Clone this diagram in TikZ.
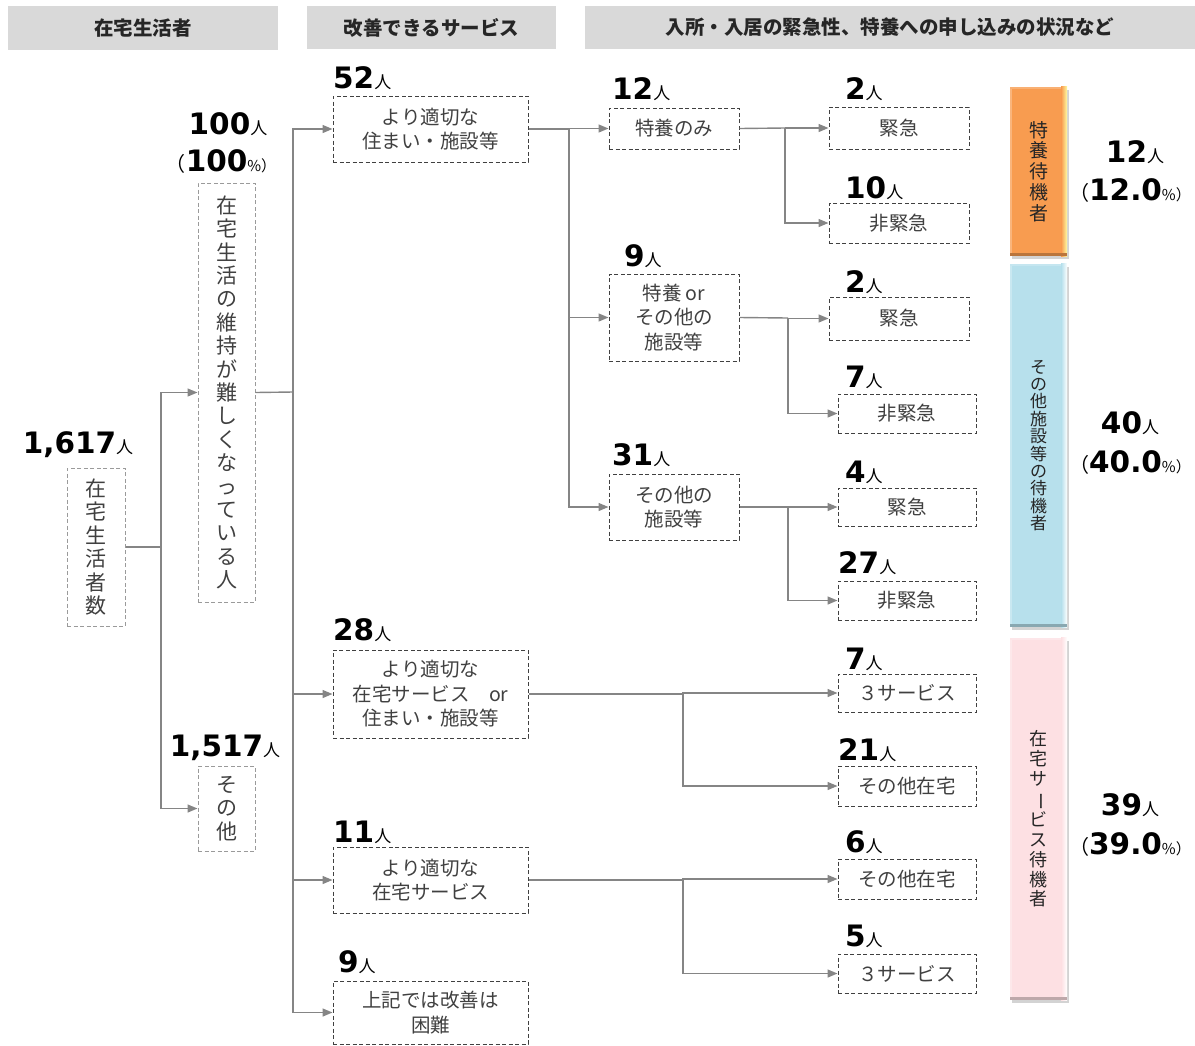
\documentclass[tikz,border=0pt]{standalone}
\usepackage{fontspec}
\setmainfont{Noto Sans CJK JP}
\newfontfamily\numf{DejaVu Sans}
\usetikzlibrary{arrows.meta,shadows}
\definecolor{hdrgray}{HTML}{D9D9D9}
\definecolor{txtgray}{HTML}{404040}
\definecolor{lngray}{HTML}{858585}
\definecolor{dashgray}{HTML}{9A9A9A}
\definecolor{orng}{HTML}{F89C50}
\definecolor{blu}{HTML}{B7E0EC}
\definecolor{pnk}{HTML}{FDE0E3}
\newcommand{\nm}[1]{{\numf\bfseries\fontsize{29.5}{30}\selectfont #1}{\fontsize{17}{17}\selectfont 人}}
\newcommand{\pc}[1]{{\fontsize{20}{20}\selectfont （}{\numf\bfseries\fontsize{29.5}{30}\selectfont #1}{\fontsize{15}{15}\selectfont \%）}}
\newcommand{\bx}[7][box]{\node[#1, minimum width={(#5-#3)*1pt}, minimum height={(#6-#4)*1pt}] (#2) at ({(#3+#5)/2},{(#4+#6)/2}) {#7};}
\newcommand{\vbar}{\rotatebox[origin=c]{-90}{ー}}
% bevel overlay on a bar node: #1 node name, #2 base colour, #3 highlight colour
\newcommand{\bevel}[3]{%
  \fill[#2!75!white] (#1.north west) rectangle ([xshift=2pt]#1.south west);
  \fill[#2!80!white] (#1.north west) rectangle ([yshift=-2pt]#1.north east);
  \shade[left color=#2, right color=#3] ([xshift=-6pt]#1.north east) rectangle (#1.south east);
  \fill[#2!75!black] ([yshift=3pt]#1.south west) rectangle (#1.south east);
}
\tikzset{
  hdr/.style={fill=hdrgray, inner sep=0pt, text=black!85, font=\bfseries\fontsize{19.5}{20}\selectfont},
  box/.style={draw=txtgray, dashed, dash pattern=on 4pt off 2.5pt, line width=1pt, inner sep=0pt, align=center, text=txtgray, font=\fontsize{19.5}{24.5}\selectfont},
  lbox/.style={draw=dashgray, dashed, dash pattern=on 4pt off 2.5pt, line width=1pt, inner sep=0pt, align=center, text=txtgray, font=\fontsize{21}{23.4}\selectfont},
  lab/.style={inner sep=0pt, text=black},
  conn/.style={draw=lngray, line width=1.4pt},
  arr/.style={conn, -{Triangle[length=10pt,width=8pt]}},
  bar/.style={draw=none, inner sep=0pt, align=center, text=black!85, drop shadow={opacity=0.35, shadow xshift=2pt, shadow yshift=-3pt}},
}
\begin{document}
\begin{tikzpicture}[x=1pt,y=-1pt]
\useasboundingbox (0,0) rectangle (1195,1045);
% headers
\bx[hdr]{h1}{8}{6}{278}{50}{在宅生活者}
\bx[hdr]{h2}{307}{6}{556}{49}{改善できるサービス}
\bx[hdr]{h3}{585}{6}{1195}{49}{入所・入居の緊急性、特養への申し込みの状況など}
% column 1
\bx[lbox]{root}{67}{468}{125}{626}{在\\宅\\生\\活\\者\\数}
\node[lab, anchor=base] (lroot) at (78,453) {\nm{1,617}};
\bx[lbox]{hard}{198}{183}{255}{602}{在\\宅\\生\\活\\の\\維\\持\\が\\難\\し\\く\\な\\っ\\て\\い\\る\\人}
\node[lab, anchor=base] (lhard) at (228,134) {\nm{100}};
\node[lab, anchor=base] (phard) at (221,171) {\pc{100}};
\bx[lbox]{oth}{198}{766}{255}{851}{そ\\の\\他}
\node[lab, anchor=base] (loth) at (225,756) {\nm{1,517}};
% column 2
\bx{b52}{333}{96}{528}{162}{より適切な\\住まい・施設等}
\node[lab, anchor=base west] (l52) at (333,88) {\nm{52}};
\bx{b28}{333}{650}{528}{738}{より適切な\\在宅サービス　or\\住まい・施設等}
\node[lab, anchor=base west] (l28) at (333,640) {\nm{28}};
\bx{b11}{333}{847}{528}{913}{より適切な\\在宅サービス}
\node[lab, anchor=base west] (l11) at (333,842) {\nm{11}};
\bx{b9}{333}{981}{528}{1044}{上記では改善は\\困難}
\node[lab, anchor=base west] (l9) at (338,972) {\nm{9}};
% column 3
\bx{c12}{609}{108}{739}{149}{特養のみ}
\node[lab, anchor=base west] (lc12) at (612,99) {\nm{12}};
\bx{c9}{609}{274}{739}{361}{特養 or\\その他の\\施設等}
\node[lab, anchor=base west] (lc9) at (624,266) {\nm{9}};
\bx{c31}{609}{474}{739}{540}{その他の\\施設等}
\node[lab, anchor=base west] (lc31) at (612,465) {\nm{31}};
% column 4
\bx{d1}{829}{107}{969}{149}{緊急}
\node[lab, anchor=base west] (ld1) at (845,99) {\nm{2}};
\bx{d2}{829}{203}{969}{243}{非緊急}
\node[lab, anchor=base west] (ld2) at (845,198) {\nm{10}};
\bx{d3}{829}{297}{969}{340}{緊急}
\node[lab, anchor=base west] (ld3) at (845,292) {\nm{2}};
\bx{d4}{838}{394}{976}{433}{非緊急}
\node[lab, anchor=base west] (ld4) at (845,387) {\nm{7}};
\bx{d5}{838}{488}{976}{526}{緊急}
\node[lab, anchor=base west] (ld5) at (845,482) {\nm{4}};
\bx{d6}{838}{581}{976}{620}{非緊急}
\node[lab, anchor=base west] (ld6) at (838,573) {\nm{27}};
\bx{e1}{838}{674}{976}{712}{３サービス}
\node[lab, anchor=base west] (le1) at (845,669) {\nm{7}};
\bx{e2}{838}{766}{976}{806}{その他在宅}
\node[lab, anchor=base west] (le2) at (838,760) {\nm{21}};
\bx{e3}{838}{859}{976}{899}{その他在宅}
\node[lab, anchor=base west] (le3) at (845,852) {\nm{6}};
\bx{e4}{838}{954}{976}{993}{３サービス}
\node[lab, anchor=base west] (le4) at (845,946) {\nm{5}};
% coloured bars
\bx[bar, fill=orng, font=\fontsize{19}{20.8}\selectfont]{o1}{1010}{87}{1067}{256}{特\\養\\待\\機\\者}
\bevel{o1}{orng}{yellow!35!white}
\bx[bar, fill=blu, font=\fontsize{17}{17.4}\selectfont]{o2}{1010}{264}{1067}{627}{そ\\の\\他\\施\\設\\等\\の\\待\\機\\者}
\bevel{o2}{blu}{white}
\bx[bar, fill=pnk, font=\fontsize{18}{19.9}\selectfont]{o3}{1010}{638}{1067}{1000}{在\\宅\\サ\\\vbar\\ビ\\ス\\待\\機\\者}
\bevel{o3}{pnk}{white}
\node[lab, anchor=base] (r1) at (1135,162) {\nm{12}};
\node[lab, anchor=base] (p1) at (1130,200) {\pc{12.0}};
\node[lab, anchor=base] (r2) at (1130,433) {\nm{40}};
\node[lab, anchor=base] (p2) at (1130,472) {\pc{40.0}};
\node[lab, anchor=base] (r3) at (1130,815) {\nm{39}};
\node[lab, anchor=base] (p3) at (1130,854) {\pc{39.0}};
% junctions
\coordinate (j0) at (161,547);
\coordinate (j1) at (293,392);
\coordinate (j2) at (569,129);
\coordinate (j3) at (785,128);
\coordinate (j4) at (788,318);
\coordinate (j5) at (788,507);
\coordinate (j6) at (683,694);
\coordinate (j7) at (683,880);
% connectors
\draw[conn] (root.east) -- (j0);
\draw[arr] (j0) |- (hard.west);
\draw[arr] (j0) |- (oth.west);
\draw[conn] (hard.east) -- (j1);
\draw[arr] (j1) |- (b52.west);
\draw[arr] (j1) |- (b28.west);
\draw[arr] (j1) |- (b11.west);
\draw[arr] (j1) |- (b9.west);
\draw[conn] (b52.east) -- (j2);
\draw[arr] (j2) |- (c12.west);
\draw[arr] (j2) |- (c9.west);
\draw[arr] (j2) |- (c31.west);
\draw[conn] (c12.east) -- (j3);
\draw[arr] (j3) |- (d1.west);
\draw[arr] (j3) |- (d2.west);
\draw[conn] (c9.east) -- (j4);
\draw[arr] (j4) |- (d3.west);
\draw[arr] (j4) |- (d4.west);
\draw[conn] (c31.east) -- (j5);
\draw[arr] (j5) |- (d5.west);
\draw[arr] (j5) |- (d6.west);
\draw[conn] (b28.east) -- (j6);
\draw[arr] (j6) |- (e1.west);
\draw[arr] (j6) |- (e2.west);
\draw[conn] (b11.east) -- (j7);
\draw[arr] (j7) |- (e3.west);
\draw[arr] (j7) |- (e4.west);
\end{tikzpicture}
\end{document}
